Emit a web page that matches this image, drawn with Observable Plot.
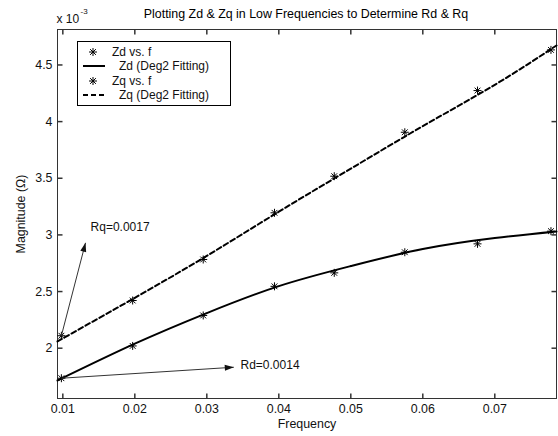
<!DOCTYPE html>
<html>
<head>
<meta charset="utf-8">
<script src="https://cdn.jsdelivr.net/npm/d3@7"></script>
<script src="https://cdn.jsdelivr.net/npm/@observablehq/plot@0.6"></script>
<style>
  html, body { margin: 0; padding: 0; background: #fff; }
  #chart { width: 558px; height: 436px; }
</style>
</head>
<body>
<div id="chart"></div>
<script>
// Measured points: frequency and impedance magnitudes (Ω)
const freq = [0.0098, 0.0197, 0.0295, 0.0394, 0.0477, 0.0575, 0.0676, 0.0778];
const zd   = [0.001735, 0.002020, 0.002289, 0.002546, 0.002665, 0.002847, 0.002921, 0.003033];
const zq   = [0.002110, 0.002421, 0.002783, 0.003195, 0.003518, 0.003906, 0.004274, 0.004633];

// Second-order fitted curves, sampled across the frequency span
const fitFreq = [0.00926, 0.02, 0.03, 0.04, 0.05, 0.06, 0.07, 0.07857];
const zdFit   = [0.001715, 0.002040, 0.002310, 0.002548, 0.002725, 0.002875, 0.002972, 0.003030];
const zqFit   = [0.002060, 0.002445, 0.002815, 0.003205, 0.003585, 0.003960, 0.004325, 0.004672];

// Axis ticks
const xTicks = [0.01, 0.02, 0.03, 0.04, 0.05, 0.06, 0.07];
const yTicks = [0.002, 0.0025, 0.003, 0.0035, 0.004, 0.0045];

// Annotation labels
const noteLabels = ["Rq=0.0017", "Rd=0.0014"];
const noteTips   = [[0.01315, 0.00293], [0.03375, 0.001832]];
const noteTexts  = [[0.01385, 0.003065], [0.03468, 0.001847]];

const W = 558, H = 436;
const margin = {top: 29, right: 2, bottom: 38, left: 57};
const xDomain = [0.00926, 0.07857];
const yDomain = [0.001556, 0.004813];

const pts = (fs, zs, series) => fs.map((f, i) => ({f, z: zs[i], series}));
const zdPts = pts(freq, zd, "Zd"), zqPts = pts(freq, zq, "Zq");
const zdCurve = pts(fitFreq, zdFit, "Zd"), zqCurve = pts(fitFreq, zqFit, "Zq");

// Arrows start at the lowest-frequency sample of each series
const notes = [
  {label: noteLabels[0], x1: freq[0], y1: zq[0], x2: noteTips[0][0], y2: noteTips[0][1], tx: noteTexts[0][0], ty: noteTexts[0][1]},
  {label: noteLabels[1], x1: freq[0], y1: zd[0], x2: noteTips[1][0], y2: noteTips[1][1], tx: noteTexts[1][0], ty: noteTexts[1][1]}
];
// screen-space heading of each arrow, for orienting the filled head
const sx = d3.scaleLinear(xDomain, [margin.left, W - margin.right]);
const sy = d3.scaleLinear(yDomain, [H - margin.bottom, margin.top]);
notes.forEach(n => {
  const dx = sx(n.x2) - sx(n.x1), dy = sy(n.y2) - sy(n.y1);
  n.angle = Math.atan2(dx, -dy) * 180 / Math.PI;
});

// Custom symbols
const star = {draw(ctx) {
  const r = 4, d = r * 0.72;
  ctx.moveTo(-r, 0); ctx.lineTo(r, 0);
  ctx.moveTo(0, -r); ctx.lineTo(0, r);
  ctx.moveTo(-d, -d); ctx.lineTo(d, d);
  ctx.moveTo(-d, d); ctx.lineTo(d, -d);
}};
const head = {draw(ctx) {
  ctx.moveTo(0, 0); ctx.lineTo(-3, 9); ctx.lineTo(3, 9); ctx.closePath();
}};
const tick = (dx, dy) => ({draw(ctx) { ctx.moveTo(0, 0); ctx.lineTo(dx, dy); }});

const ink = "#111";
const fmtY = d => d3.format("~g")(+(d * 1000).toFixed(4));

const chart = Plot.plot({
  width: W, height: H,
  marginTop: margin.top, marginRight: margin.right, marginBottom: margin.bottom, marginLeft: margin.left,
  style: {fontFamily: "'Liberation Sans', Arial, sans-serif", fontSize: "12px", color: ink, background: "#fff"},
  x: {domain: xDomain},
  y: {domain: yDomain},
  marks: [
    Plot.frame({stroke: "#333"}),
    // inward tick marks on all four sides
    Plot.dot(xTicks, {x: d => d, frameAnchor: "bottom", symbol: tick(0, -5), stroke: "#333", fill: "none"}),
    Plot.dot(xTicks, {x: d => d, frameAnchor: "top", symbol: tick(0, 5), stroke: "#333", fill: "none"}),
    Plot.dot(yTicks, {y: d => d, frameAnchor: "left", symbol: tick(5, 0), stroke: "#333", fill: "none"}),
    Plot.dot(yTicks, {y: d => d, frameAnchor: "right", symbol: tick(-5, 0), stroke: "#333", fill: "none"}),
    Plot.axisX(xTicks, {anchor: "bottom", tickSize: 0, tickPadding: 6, tickFormat: d3.format(".2f"), fontSize: 12.4,
      label: "Frequency", labelArrow: false, labelAnchor: "center", labelOffset: 29}),
    Plot.axisY(yTicks, {anchor: "left", tickSize: 0, tickPadding: 5, tickFormat: fmtY, fontSize: 12.4,
      label: "Magnitude (Ω)", labelArrow: false, labelAnchor: "center", labelOffset: 41}),
    // fitted curves
    Plot.line(zdCurve, {x: "f", y: "z", curve: "natural", stroke: "#000", strokeWidth: 2}),
    Plot.line(zqCurve, {x: "f", y: "z", curve: "natural", stroke: "#000", strokeWidth: 2, strokeDasharray: "5,3"}),
    // measured samples
    Plot.dot(zdPts, {x: "f", y: "z", symbol: star, stroke: "#000", fill: "none", strokeWidth: 1}),
    Plot.dot(zqPts, {x: "f", y: "z", symbol: star, stroke: "#000", fill: "none", strokeWidth: 1}),
    // annotations
    Plot.link(notes, {x1: "x1", y1: "y1", x2: "x2", y2: "y2", stroke: "#333", strokeWidth: 1}),
    Plot.dot(notes, {x: "x2", y: "y2", symbol: head, rotate: "angle", fill: "#111", stroke: "none"}),
    Plot.text(notes, {x: "tx", y: "ty", text: "label", textAnchor: "start", fill: ink, fontSize: 12}),
    // title and exponent
    Plot.text(["Plotting Zd & Zq in Low Frequencies to Determine Rd & Rq"],
      {frameAnchor: "top", dy: -20, dx: -1, fontSize: 12.4, fill: "#000"}),
    Plot.text(["x 10"], {frameAnchor: "top-left", dx: -1, dy: -15, textAnchor: "start", fontSize: 12, fill: ink}),
    Plot.text(["-3"], {frameAnchor: "top-left", dx: 23, dy: -21, textAnchor: "start", fontSize: 8, fill: ink})
  ]
});

// Legend box in the upper-left corner of the axes
const svg = d3.select(chart);
const lg = svg.append("g").attr("font-size", 12).attr("fill", ink).attr("text-anchor", "start");
lg.append("rect").attr("x", 77.5).attr("y", 41.5).attr("width", 153).attr("height", 64)
  .attr("fill", "#fff").attr("stroke", "#000");
const starPath = d3.symbol(star)();
const rows = [
  {y: 52, kind: "star", text: "Zd vs. f", tx: 112},
  {y: 66, kind: "solid", text: "Zd (Deg2 Fitting)", tx: 119},
  {y: 81, kind: "star", text: "Zq vs. f", tx: 112},
  {y: 95, kind: "dash", text: "Zq (Deg2 Fitting)", tx: 119}
];
rows.forEach(r => {
  if (r.kind === "star") {
    lg.append("path").attr("d", starPath).attr("transform", `translate(93,${r.y})`)
      .attr("stroke", "#000").attr("fill", "none");
  } else {
    lg.append("line").attr("x1", 83).attr("x2", 105).attr("y1", r.y).attr("y2", r.y)
      .attr("stroke", "#000").attr("stroke-width", 2)
      .attr("stroke-dasharray", r.kind === "dash" ? "5,3" : null);
  }
  lg.append("text").attr("x", r.tx).attr("y", r.y).attr("dy", "0.35em").text(r.text);
});

document.getElementById("chart").appendChild(chart);
</script>
</body>
</html>
